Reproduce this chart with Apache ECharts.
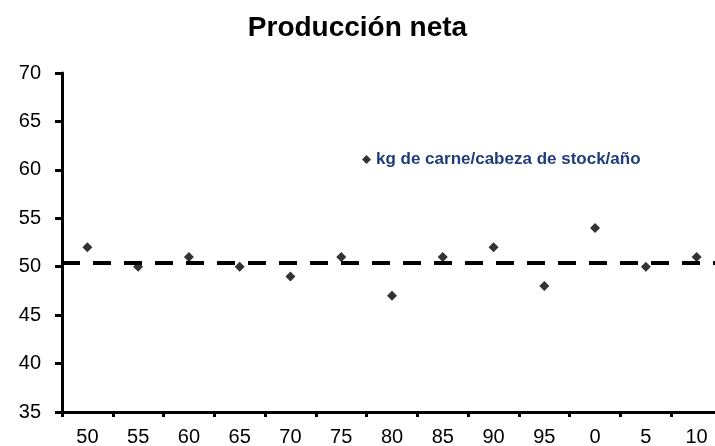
<!DOCTYPE html>
<html>
<head>
<meta charset="utf-8">
<script src="https://cdn.jsdelivr.net/npm/echarts@6/dist/echarts.min.js"></script>
<style>
  html, body { margin: 0; padding: 0; background: #fff; }
  #chart { width: 715px; height: 446px; }
</style>
</head>
<body>
<div id="chart"></div>
<script>
// años (dos cifras)
var years = ['50', '55', '60', '65', '70', '75', '80', '85', '90', '95', '0', '5', '10']
// kg de carne / cabeza de stock / año
var produccion = [52, 50, 51, 50, 49, 51, 47, 51, 52, 48, 54, 50, 51]
var serieNombre = 'kg de carne/cabeza de stock/año'

var fuente = 'Arial, "Liberation Sans", sans-serif'
var myChart = echarts.init(document.getElementById('chart'))

var option = {
  animation: false,
  title: {
    text: 'Producción neta',
    left: 'center',
    top: 9,
    textStyle: { fontFamily: fuente, fontSize: 28, fontWeight: 'bold', color: '#000' }
  },
  legend: {
    left: 357,
    top: 146,
    icon: 'diamond',
    itemWidth: 9,
    itemHeight: 9,
    itemGap: 4,
    textStyle: { fontFamily: fuente, fontSize: 17, fontWeight: 'bold', color: '#1f3d7a' },
    data: [serieNombre]
  },
  // el eje x sigue más allá del borde derecho
  grid: { left: 62, top: 73, width: 660, height: 339, containLabel: false, outerBoundsMode: 'none' },
  xAxis: {
    type: 'category',
    data: years,
    boundaryGap: true,
    axisLine: { lineStyle: { color: '#000', width: 3 } },
    axisTick: { show: true, length: 5, lineStyle: { color: '#000', width: 3 } },
    axisLabel: { margin: 15, fontFamily: fuente, fontSize: 20, color: '#000' },
    splitLine: { show: false }
  },
  yAxis: {
    type: 'value',
    min: 35,
    max: 70,
    interval: 5,
    axisLine: { show: true, lineStyle: { color: '#000', width: 3 } },
    axisTick: { show: true, length: 7, lineStyle: { color: '#000', width: 3 } },
    axisLabel: { margin: 21, fontFamily: fuente, fontSize: 20, color: '#000' },
    splitLine: { show: false }
  },
  series: [{
    name: serieNombre,
    type: 'scatter',
    symbol: 'diamond',
    symbolSize: 10,
    itemStyle: { color: '#000' },
    data: produccion,
    markLine: {
      silent: true,
      symbol: 'none',
      label: { show: false },
      lineStyle: { color: '#000', width: 4, type: [18, 13] },
      data: [{ type: 'average' }]
    }
  }]
}

myChart.setOption(option)
</script>
</body>
</html>
